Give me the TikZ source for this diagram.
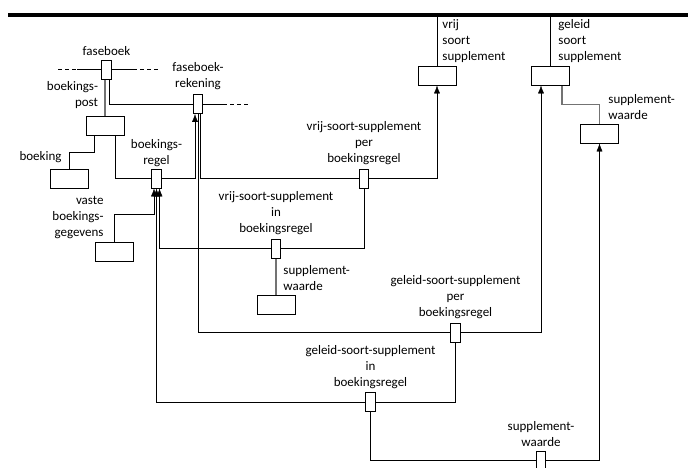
\documentclass[tikz,border=0pt]{standalone}
\usepackage{fontspec}
\setmainfont{Carlito}
\usetikzlibrary{arrows.meta, positioning, backgrounds}

\begin{document}
\begin{tikzpicture}[x=1pt, y=-1pt, >={Latex[length=8pt,width=6pt]}, line width=0.9pt,
  every node/.style={font=\fontsize{13}{16}\selectfont, inner sep=0pt},
  ent/.style={draw, rectangle, fill=white, minimum width=38pt, minimum height=19pt},
  fact/.style={draw, rectangle, fill=white, minimum width=9.5pt, minimum height=19pt},
  lbl/.style={align=center},
  idline/.style={gray!90!black, line width=1.1pt}]

  \useasboundingbox (0,0) rectangle (688,467);

  % Top line
  \coordinate (topL) at (8,15);
  \coordinate (topR) at (688,15);
  \draw[line width=4pt] (topL) -- (topR);

  % Entity boxes
  \node[ent] (vss) at (437,75.5) {};
  \node[ent] (gss) at (550.5,75.5) {};
  \node[ent] (sw2) at (599.5,133.5) {};
  \node[ent] (bp)  at (105,125.5) {};
  \node[ent] (bk)  at (69.5,178.5) {};
  \node[ent] (vbg) at (114,251.5) {};
  \node[ent] (sw1) at (276,304.5) {};

  % Fact boxes
  \node[fact] (fb)  at (106.5,69.5) {};
  \node[fact] (fbr) at (198,104) {};
  \node[fact] (br)  at (156.5,178.5) {};
  \node[fact] (vsp) at (364,178.5) {};
  \node[fact] (vsi) at (276,248.5) {};
  \node[fact] (gsp) at (455.5,332.5) {};
  \node[fact] (gsi) at (370.5,402) {};
  \node[fact] (sw3) at (541,460.5) {};

  % Labels
  \node[lbl, above=4pt of fb] (fb-lbl) {faseboek};
  \node[lbl, above=3.5pt of fbr] (fbr-lbl) {faseboek-\\rekening};
  \node[lbl, above=1.5pt of br] (br-lbl) {boekings-\\regel};
  \node[lbl, above=3pt of vsp] (vsp-lbl) {vrij-soort-supplement\\per\\boekingsregel};
  \node[lbl, above=3pt of vsi] (vsi-lbl) {vrij-soort-supplement\\in\\boekingsregel};
  \node[lbl, above=3pt of gsp] (gsp-lbl) {geleid-soort-supplement\\per\\boekingsregel};
  \node[lbl, above=3pt of gsi] (gsi-lbl) {geleid-soort-supplement\\in\\boekingsregel};
  \node[lbl, above=4pt of sw3] (sw3-lbl) {supplement-\\waarde};
  \node[align=right, anchor=east] (bp-lbl) at (98.5,95) {boekings-\\post};
  \node[anchor=east] (bk-lbl) at (62,157) {boeking};
  \node[align=right, anchor=east] (vbg-lbl) at (104,217) {vaste\\boekings-\\gegevens};
  \node[align=left, anchor=west] (sw1-lbl) at (283,278.5) {supplement-\\waarde};
  \node[align=left, anchor=west] (vss-lbl) at (442,41) {vrij\\soort\\supplement};
  \node[align=left, anchor=west] (gss-lbl) at (558,41) {geleid\\soort\\supplement};
  \node[align=left, anchor=west] (sw2-lbl) at (608,107) {supplement-\\waarde};

  % Edges
  \begin{scope}[on background layer]
    % faseboek
    \coordinate (fb-dl) at (58,69.5);
    \coordinate (fb-sl) at (77,69.5);
    \coordinate (fb-sr) at (133,69.5);
    \coordinate (fb-dr) at (160,69.5);
    \draw[dash pattern=on 4pt off 3pt] (fb-dl) -- (fb-sl);
    \draw (fb-sl) -- (fb-sr);
    \draw[dash pattern=on 4pt off 3pt] (fb-sr) -- (fb-dr);
    \draw[idline] ([xshift=-1.5pt]fb.south) -- ([xshift=-1.5pt]fb.south |- bp.north);

    % faseboek-rekening
    \coordinate (fbr-s) at (223,104);
    \coordinate (fbr-d) at (250,104);
    \draw ([xshift=2.5pt]fb.south) |- (fbr.west);
    \draw (fbr.east) -- (fbr-s);
    \draw[dash pattern=on 4pt off 3pt] (fbr-s) -- (fbr-d);

    % boeking, boekings-regel
    \draw ([xshift=-11pt]bp.south) -- ++(0,17) -| (bk.north);
    \draw ([xshift=10pt]bp.south) |- (br.west);
    \draw[->] (br.east) -| ([xshift=-3pt]fbr.south);

    % vaste boekings-gegevens
    \draw[<-] ([xshift=-2.5pt]br.south) |- ([yshift=27pt]vbg.north) -- (vbg.north);

    % vrij-soort-supplement
    \draw ([xshift=2.5pt]fbr.south) |- (vsp.west);
    \draw[->] (vsp.east) -| (vss.south);
    \draw[<-] ([xshift=3pt]br.south) |- (vsi.west);
    \draw (vsi.east) -| (vsp.south);
    \draw[idline] (vsi.south) -- (sw1.north);
    \draw (vss.north) -- (vss.north |- topL);

    % geleid-soort-supplement
    \draw (fbr.south) |- (gsp.west);
    \draw[->] (gsp.east) -| ([xshift=-9.5pt]gss.south);
    \draw[<-] (br.south) |- (gsi.west);
    \draw (gsi.east) -| (gsp.south);
    \draw (gsi.south) |- (sw3.west);
    \draw[->] (sw3.east) -| (sw2.south);
    \draw[idline] ([xshift=11.5pt]gss.south) |- ([yshift=19pt]sw2.north) -- (sw2.north);
    \draw (gss.north) -- (gss.north |- topL);
  \end{scope}

\end{tikzpicture}
\end{document}
